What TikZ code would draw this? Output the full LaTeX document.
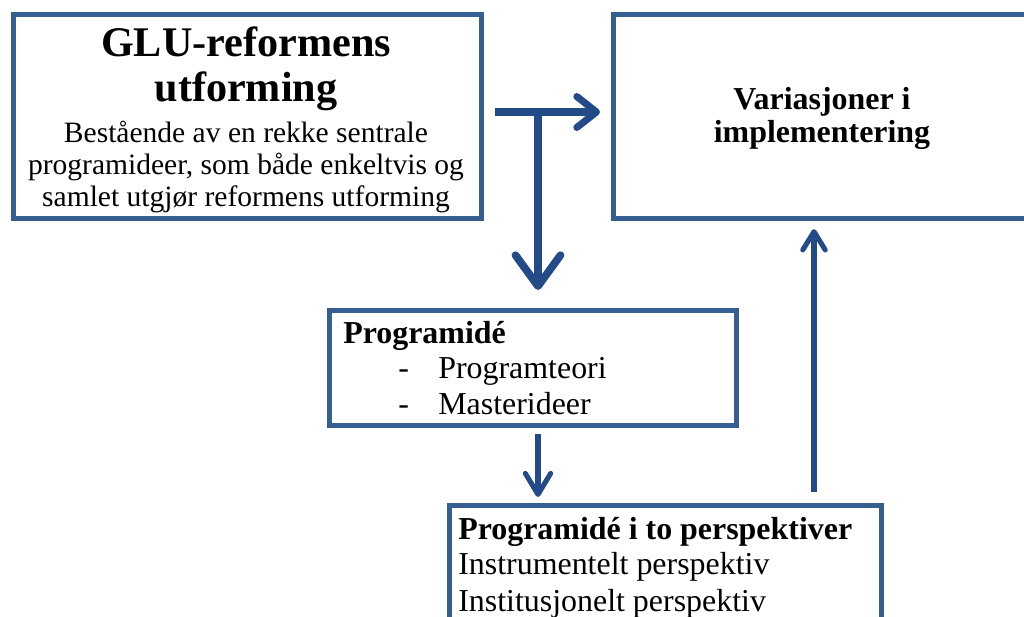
\documentclass[tikz,border=0pt]{standalone}
\usepackage{fontspec}
\setmainfont{Liberation Serif}
\usetikzlibrary{arrows.meta,positioning,calc}
\definecolor{boxblue}{RGB}{54,95,145}
\definecolor{arrowblue}{RGB}{35,75,135}

\begin{document}
\begin{tikzpicture}[
    x=0.025cm,
    y=-0.025cm,
    box/.style={draw=boxblue, line width=3.6pt, anchor=north west, inner sep=0pt},
    txt/.style={inner sep=0pt, anchor=base, font=\fontsize{21}{24}\selectfont},
    headline/.style={txt, font=\fontsize{30}{34}\selectfont\bfseries},
    boldline/.style={txt, font=\fontsize{22.7}{26}\selectfont\bfseries},
    leftline/.style={txt, anchor=base west, font=\fontsize{22.7}{26}\selectfont},
    flow/.style={draw=arrowblue, line width=#1},
  ]

  % === Frame ===
  \useasboundingbox (0,0) rectangle (1024,617);
  \clip (0,0) rectangle (1024,617);

  % === Boxes ===
  \node[box, minimum width=11.7cm, minimum height=5.1cm] (glu) at (10.5,12) {};
  \node[box, minimum width=10.6cm, minimum height=5.1cm] (var) at (611,12) {};
  \node[box, minimum width=10.175cm, minimum height=2.875cm] (idea) at (327,308) {};
  \node[box, minimum width=10.8cm, minimum height=3.1cm] (persp) at (447,503) {};

  % GLU box text
  \node[headline] (glu1) at (246,57) {GLU-reformens};
  \node[headline] (glu2) at (246,102) {utforming};
  \node[txt] (glu3) at (246,143) {Bestående av en rekke sentrale};
  \node[txt] (glu4) at (246,175) {programideer, som både enkeltvis og};
  \node[txt] (glu5) at (246,206) {samlet utgjør reformens utforming};

  % Variation box text
  \node[boldline] (var1) at (822,110) {Variasjoner i};
  \node[boldline] (var2) at (822,143) {implementering};

  % Programme idea box text
  \node[leftline, font=\fontsize{22.7}{26}\selectfont\bfseries] (idea1) at (343,343) {Programidé};
  \node[leftline] (dash1) at (398,378) {-};
  \node[leftline] (idea2) at (438,378) {Programteori};
  \node[leftline] (dash2) at (398,414) {-};
  \node[leftline] (idea3) at (438,414) {Masterideer};

  % Perspective box text
  \node[leftline, font=\fontsize{22.7}{26}\selectfont\bfseries] (persp1) at (458,539) {Programidé i to perspektiver};
  \node[leftline] (persp2) at (458,574) {Instrumentelt perspektiv};
  \node[leftline] (persp3) at (458,611) {Institusjonelt perspektiv};

  % === Arrows ===
  \coordinate (split) at (538,112);
  \coordinate (hstart) at (495,112);
  \coordinate (rise) at (814,0);

  \draw[flow=5pt, -{Straight Barb[length=14pt,width=22pt,round]}, shorten >=0.275cm]
    (hstart) -- (var.west |- hstart);
  \draw[flow=5.5pt, -{Straight Barb[length=22pt,width=32pt,round]}, shorten >=0.45cm]
    (split) -- (split |- idea.north);
  \draw[flow=3.6pt, -{Straight Barb[length=15pt,width=18pt,round]}, shorten <=0.15cm, shorten >=0.15cm]
    (idea.south -| split) -- (persp.north -| split);
  \draw[flow=3.6pt, -{Straight Barb[length=13pt,width=16pt,round]}, shorten <=0.275cm, shorten >=0.2cm]
    (persp.north -| rise) -- (var.south -| rise);

\end{tikzpicture}
\end{document}
